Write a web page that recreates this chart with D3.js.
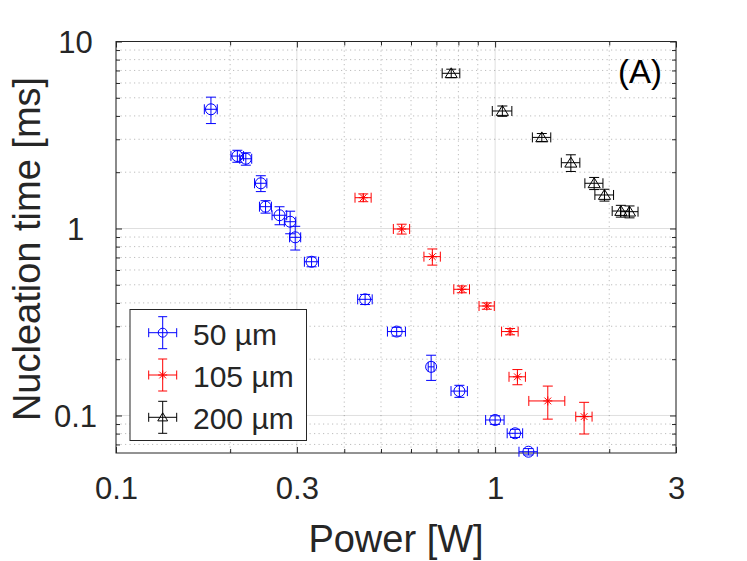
<!DOCTYPE html>
<html>
<head>
<meta charset="utf-8">
<script src="https://cdn.jsdelivr.net/npm/d3@7"></script>
<style>
  body { margin: 0; background: #fff; }
  text { font-family: 'Liberation Sans', Arial, sans-serif; fill: #262626; }
</style>
</head>
<body>
<div id="chart"></div>
<script>
// 50 um series
const power50 = [0.178, 0.209, 0.220, 0.241, 0.248, 0.270, 0.288, 0.297, 0.328, 0.454, 0.550, 0.678, 0.805, 1.00, 1.129, 1.224];
const time50 = [4.34, 2.44, 2.36, 1.745, 1.308, 1.177, 1.087, 0.897, 0.664, 0.418, 0.281, 0.182, 0.135, 0.0946, 0.0803, 0.064];
const dPower50 = [0.007, 0.008, 0.008, 0.009, 0.009, 0.012, 0.010, 0.010, 0.014, 0.020, 0.030, 0.012, 0.040, 0.056, 0.053, 0.068];
const dTime50 = [0.70, 0.18, 0.18, 0.17, 0.10, 0.13, 0.15, 0.13, 0.04, 0.026, 0.015, 0.028, 0.010, 0.005, 0.004, 0.0025];

// 105 um series
const power105 = [0.449, 0.567, 0.683, 0.817, 0.951, 1.095, 1.145, 1.377, 1.717];
const time105 = [1.461, 0.994, 0.707, 0.473, 0.385, 0.281, 0.161, 0.1196, 0.0986];
const dPower105 = [0.022, 0.028, 0.034, 0.039, 0.044, 0.055, 0.057, 0.15, 0.085];
const dTime105 = [0.07, 0.06, 0.07, 0.02, 0.015, 0.011, 0.015, 0.024, 0.019];

// 200 um series
const power200 = [0.766, 1.045, 1.328, 1.584, 1.825, 1.943, 2.146, 2.262];
const time200 = [6.76, 4.25, 3.07, 2.248, 1.745, 1.511, 1.24, 1.23];
const dPower200 = [0.041, 0.062, 0.074, 0.089, 0.10, 0.11, 0.11, 0.12];
const dTime200 = [0.35, 0.27, 0.15, 0.23, 0.13, 0.11, 0.09, 0.09];

const seriesLabels = ['50 µm', '105 µm', '200 µm'];

// ticks
const xMajorTicks = [0.1, 0.3, 1, 3];
const xMinorTicks = [0.2, 0.4, 0.5, 0.6, 0.7, 0.8, 0.9, 2];
const yMajorTicks = [0.1, 1, 10];
const yMinorTicks = [0.07, 0.08, 0.09, 0.2, 0.3, 0.4, 0.5, 0.6, 0.7, 0.8, 0.9, 2, 3, 4, 5, 6, 7, 8, 9];
const xDomain = [0.1, 3];
const yDomain = [0.063, 10];

//
// Set-up
//
const W = 747, H = 561;
const plot = { left: 116, right: 676, top: 41.5, bottom: 453 };
const axisColor = '#262626';

const svg = d3.select('#chart').append('svg')
  .attr('width', W)
  .attr('height', H);

const xScale = d3.scaleLog().domain(xDomain).range([plot.left, plot.right]);
const yScale = d3.scaleLog().domain(yDomain).range([plot.bottom, plot.top]);

//
// Grid
//
const grid = svg.append('g').attr('class', 'grid');

grid.selectAll('.xminor').data(xMinorTicks).enter().append('line')
  .attr('x1', d => xScale(d)).attr('x2', d => xScale(d))
  .attr('y1', plot.top).attr('y2', plot.bottom)
  .attr('stroke', axisColor).attr('stroke-opacity', 0.3)
  .attr('stroke-dasharray', '1.2,3.3');
grid.selectAll('.yminor').data(yMinorTicks).enter().append('line')
  .attr('y1', d => yScale(d)).attr('y2', d => yScale(d))
  .attr('x1', plot.left).attr('x2', plot.right)
  .attr('stroke', axisColor).attr('stroke-opacity', 0.3)
  .attr('stroke-dasharray', '1.2,3.3');
grid.selectAll('.xmajor').data(xMajorTicks).enter().append('line')
  .attr('x1', d => xScale(d)).attr('x2', d => xScale(d))
  .attr('y1', plot.top).attr('y2', plot.bottom)
  .attr('stroke', axisColor).attr('stroke-opacity', 0.15);
grid.selectAll('.ymajor').data(yMajorTicks).enter().append('line')
  .attr('y1', d => yScale(d)).attr('y2', d => yScale(d))
  .attr('x1', plot.left).attr('x2', plot.right)
  .attr('stroke', axisColor).attr('stroke-opacity', 0.15);

//
// Axes (box with inward ticks on all four sides)
//
function styleAxis(g) {
  g.select('.domain').remove();
  g.selectAll('line').attr('stroke', axisColor);
}

const majorLen = 6, minorLen = 4;

svg.append('g')
  .attr('transform', `translate(0, ${plot.bottom})`)
  .call(d3.axisBottom(xScale).tickValues(xMajorTicks).tickSize(-majorLen).tickFormat(d3.format('')))
  .call(styleAxis)
  .call(g => g.selectAll('text')
    .attr('y', 24).attr('dy', '0.71em')
    .style('font-size', '31px').style('font-family', null).attr('fill', axisColor));
svg.append('g')
  .attr('transform', `translate(0, ${plot.bottom})`)
  .call(d3.axisBottom(xScale).tickValues(xMinorTicks).tickSize(-minorLen).tickFormat(''))
  .call(styleAxis);
svg.append('g')
  .attr('transform', `translate(0, ${plot.top})`)
  .call(d3.axisTop(xScale).tickValues(xMajorTicks).tickSize(-majorLen).tickFormat(''))
  .call(styleAxis);
svg.append('g')
  .attr('transform', `translate(0, ${plot.top})`)
  .call(d3.axisTop(xScale).tickValues(xMinorTicks).tickSize(-minorLen).tickFormat(''))
  .call(styleAxis);

svg.append('g')
  .attr('transform', `translate(${plot.left}, 0)`)
  .call(d3.axisLeft(yScale).tickValues(yMajorTicks).tickSize(-majorLen).tickFormat(d3.format('')))
  .call(styleAxis)
  .call(g => g.selectAll('text')
    .attr('x', 75.5 - plot.left).attr('dy', '0.34em')
    .attr('text-anchor', 'middle')
    .style('font-size', '31px').style('font-family', null).attr('fill', axisColor));
svg.append('g')
  .attr('transform', `translate(${plot.left}, 0)`)
  .call(d3.axisLeft(yScale).tickValues(yMinorTicks).tickSize(-minorLen).tickFormat(''))
  .call(styleAxis);
svg.append('g')
  .attr('transform', `translate(${plot.right}, 0)`)
  .call(d3.axisRight(yScale).tickValues(yMajorTicks).tickSize(-majorLen).tickFormat(''))
  .call(styleAxis);
svg.append('g')
  .attr('transform', `translate(${plot.right}, 0)`)
  .call(d3.axisRight(yScale).tickValues(yMinorTicks).tickSize(-minorLen).tickFormat(''))
  .call(styleAxis);

svg.append('rect')
  .attr('x', plot.left).attr('y', plot.top)
  .attr('width', plot.right - plot.left).attr('height', plot.bottom - plot.top)
  .attr('fill', 'none').attr('stroke', axisColor).attr('stroke-width', 1);

//
// Markers and error bars
//
function drawMarker(g, type, x, y, color, s) {
  if (type === 'circle') {
    g.append('circle').attr('cx', x).attr('cy', y).attr('r', s)
      .attr('fill', 'none').attr('stroke', color);
  } else if (type === 'star') {
    const a = s * 0.75;
    g.append('path')
      .attr('d', `M${x - a},${y - a}L${x + a},${y + a}M${x - a},${y + a}L${x + a},${y - a}M${x},${y - s}L${x},${y + s}M${x - s},${y}L${x + s},${y}`)
      .attr('fill', 'none').attr('stroke', color);
  } else {
    const h = s * 1.0, w = s * 1.1;
    g.append('path')
      .attr('d', `M${x},${y - h}L${x + w},${y + h * 0.8}L${x - w},${y + h * 0.8}Z`)
      .attr('fill', 'none').attr('stroke', color);
  }
}

const cap = 5;

function drawSeries(P, T, dP, dT, color, type, size) {
  const g = svg.append('g').attr('class', 'series');
  P.forEach((p, i) => {
    const cx = xScale(p), cy = yScale(T[i]);
    const y1 = yScale(T[i] - dT[i]), y2 = yScale(T[i] + dT[i]);
    const x1 = xScale(p - dP[i]), x2 = xScale(p + dP[i]);
    g.append('path')
      .attr('d', `M${cx},${y1}L${cx},${y2}M${cx - cap},${y1}L${cx + cap},${y1}M${cx - cap},${y2}L${cx + cap},${y2}` +
        `M${x1},${cy}L${x2},${cy}M${x1},${cy - cap}L${x1},${cy + cap}M${x2},${cy - cap}L${x2},${cy + cap}`)
      .attr('fill', 'none').attr('stroke', color);
    drawMarker(g, type, cx, cy, color, size);
  });
}

drawSeries(power50, time50, dPower50, dTime50, '#0000ff', 'circle', 5.5);
drawSeries(power105, time105, dPower105, dTime105, '#ff0000', 'star', 4.5);
drawSeries(power200, time200, dPower200, dTime200, '#000000', 'triangle', 5.5);

//
// Legend
//
const legend = svg.append('g').attr('class', 'legend');
legend.append('rect')
  .attr('x', 130).attr('y', 309.5).attr('width', 176.5).attr('height', 131)
  .attr('fill', '#fff').attr('stroke', axisColor);

const legendColors = ['#0000ff', '#ff0000', '#000000'];
const legendTypes = ['circle', 'star', 'triangle'];
seriesLabels.forEach((label, i) => {
  const cy = 332.7 + i * 42.3, cx = 162.7;
  const c = 4.5;
  legend.append('path')
    .attr('d', `M${cx},${cy - 16}L${cx},${cy + 16}M${cx - c},${cy - 16}L${cx + c},${cy - 16}M${cx - c},${cy + 16}L${cx + c},${cy + 16}` +
      `M${cx - 14},${cy}L${cx + 14},${cy}M${cx - 14},${cy - c}L${cx - 14},${cy + c}M${cx + 14},${cy - c}L${cx + 14},${cy + c}`)
    .attr('fill', 'none').attr('stroke', legendColors[i]);
  drawMarker(legend, legendTypes[i], cx, cy, legendColors[i], 4.5);
  legend.append('text')
    .attr('x', 193).attr('y', cy + 12)
    .style('font-size', '30px')
    .text(label);
});

//
// Labels
//
svg.append('text')
  .attr('x', 662).attr('y', 83)
  .attr('text-anchor', 'end')
  .style('font-size', '33px')
  .attr('fill', '#000')
  .style('fill', '#000')
  .text('(A)');

svg.append('text')
  .attr('x', (plot.left + plot.right) / 2).attr('y', 551.5)
  .attr('text-anchor', 'middle')
  .style('font-size', '38px')
  .text('Power [W]');

svg.append('text')
  .attr('transform', `translate(40, 249) rotate(-90)`)
  .attr('text-anchor', 'middle')
  .style('font-size', '38px')
  .text('Nucleation time [ms]');
</script>
</body>
</html>
